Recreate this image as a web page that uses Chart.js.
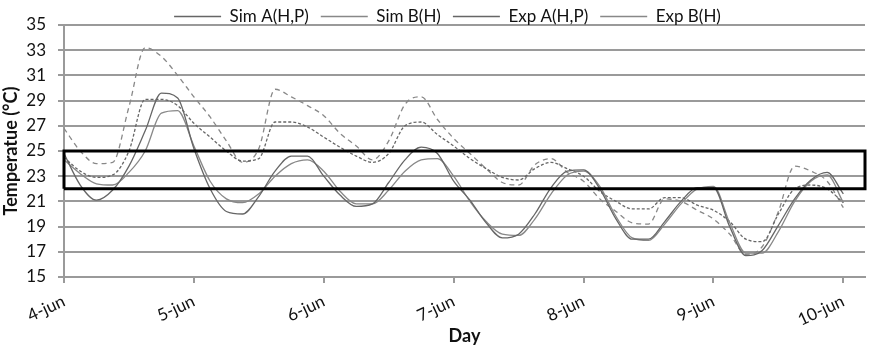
<!DOCTYPE html>
<html>
<head>
<meta charset="utf-8">
<script src="https://cdn.jsdelivr.net/npm/chart.js@4.4.1/dist/chart.umd.min.js"></script>
<style>
  html, body { margin: 0; padding: 0; background: #fff; }
  #wrap { width: 873px; height: 348px; }
</style>
</head>
<body>
<div id="wrap"><canvas id="tempChart" width="873" height="348"></canvas></div>
<script>
// hours since 4-jun 00:00, one reading every 3 h
const hours = [0, 3, 6, 9, 12, 15, 18, 21, 24, 27, 30, 33, 36, 39, 42, 45, 48, 51, 54, 57,
               60, 63, 66, 69, 72, 75, 78, 81, 84, 87, 90, 93, 96, 99, 102, 105, 108, 111, 114, 117,
               120, 123, 126, 129, 132, 135, 138, 141, 144];

const dayTicks = [0, 24, 48, 72, 96, 120, 144];
const dayLabels = ["4-jun", "5-jun", "6-jun", "7-jun", "8-jun", "9-jun", "10-jun"];

const simA = [24.8, 22.3, 21.1, 21.9, 23.8, 26.6, 29.6, 29.2, 25.2, 22.0, 20.2, 20.0, 21.4, 23.4, 24.6, 24.6, 23.0, 21.5, 20.6, 20.8,
              22.5, 24.3, 25.3, 24.8, 22.6, 21.1, 19.3, 18.1, 18.4, 20.0, 22.1, 23.4, 23.5, 22.0, 19.6, 18.0, 18.0, 19.4, 21.0, 22.1,
              22.1, 19.0, 16.7, 17.1, 19.1, 21.2, 22.7, 23.3, 21.6];

const simB = [24.3, 23.2, 22.4, 22.3, 23.3, 25.0, 28.0, 28.2, 25.4, 22.6, 21.2, 20.9, 21.6, 23.0, 24.0, 24.3, 23.4, 21.8, 20.8, 20.8,
              21.9, 23.4, 24.3, 24.4, 23.0, 21.0, 19.4, 18.4, 18.3, 19.6, 21.6, 23.1, 23.4, 22.2, 19.8, 18.1, 17.9, 19.2, 20.8, 22.0,
              22.2, 19.3, 16.9, 16.9, 18.6, 21.0, 22.6, 23.1, 20.9];

const expA = [24.5, 23.4, 22.9, 23.1, 25.0, 29.1, 29.1, 28.6, 27.2, 26.1, 25.0, 24.2, 24.4, 27.3, 27.3, 26.9, 26.1, 25.3, 24.6, 24.1,
              24.8, 27.0, 27.3, 26.3, 25.4, 24.4, 23.6, 22.9, 22.7, 23.6, 24.1, 23.6, 23.0, 21.8, 21.0, 20.4, 20.4, 21.3, 21.3, 20.7,
              20.3, 19.4, 18.0, 17.8, 20.0, 22.0, 22.3, 22.0, 20.9];

const expB = [26.8, 25.0, 24.0, 24.1, 28.5, 33.2, 32.5, 31.0, 29.3, 27.7, 25.8, 24.1, 25.2, 29.9, 29.3, 28.6, 27.8, 26.4, 25.4, 24.3,
              25.8, 28.7, 29.3, 27.5, 26.0, 24.8, 23.6, 22.5, 22.3, 23.9, 24.4, 23.3, 22.6, 21.2, 20.2, 19.3, 19.2, 21.2, 21.0, 20.3,
              19.6, 18.4, 16.8, 17.4, 20.2, 23.8, 23.4, 22.6, 20.5];

// comfort band drawn as a rectangle
const bandLow = 22;
const bandHigh = 25;
const xMax = 148;

function points(values) {
    return hours.map((h, i) => ({ x: h, y: values[i] }));
}

function series(label, values, color, dash) {
    return {
        label: label,
        data: points(values),
        borderColor: color,
        backgroundColor: color,
        borderWidth: 1.3,
        borderDash: dash,
        pointRadius: 0,
        cubicInterpolationMode: "monotone",
        order: 1
    };
}

const bandBox = {
    label: "",
    data: [
        { x: 0, y: bandLow }, { x: 0, y: bandHigh },
        { x: xMax, y: bandHigh }, { x: xMax, y: bandLow }, { x: 0, y: bandLow }
    ],
    borderColor: "#000",
    borderWidth: 3,
    pointRadius: 0,
    tension: 0,
    clip: false,
    order: 0
};

// keep the legend row short, draw it a little higher and to the right
const tightLegend = {
    id: "tightLegend",
    beforeInit(chart) {
        const fit = chart.legend.fit;
        chart.legend.fit = function () {
            fit.call(this);
            this.height = 22;
        };
    },
    afterLayout(chart) {
        const lg = chart.legend;
        lg.top -= 7;
        lg.left += 15;
        lg.right += 15;
    }
};

const font = "Lato, 'Open Sans', sans-serif";

new Chart(document.getElementById("tempChart"), {
    type: "line",
    data: {
        datasets: [
            series("Sim A(H,P)", simA, "#666666", []),
            series("Sim B(H)", simB, "#888888", []),
            series("Exp A(H,P)", expA, "#666666", [3, 2]),
            series("Exp B(H)", expB, "#888888", [5, 4]),
            bandBox
        ]
    },
    options: {
        responsive: false,
        animation: false,
        layout: { padding: { top: 3, right: 8, left: 0, bottom: 1 } },
        plugins: {
            tooltip: { enabled: false },
            legend: {
                position: "top",
                labels: {
                    color: "#111",
                    font: { family: font, size: 17 },
                    usePointStyle: true,
                    pointStyle: "line",
                    pointStyleWidth: 47,
                    padding: 12,
                    filter: item => item.text !== ""
                }
            }
        },
        scales: {
            x: {
                type: "linear",
                min: 0,
                max: xMax,
                afterBuildTicks: axis => {
                    axis.ticks = dayTicks.map(v => ({ value: v }));
                },
                afterFit: axis => {
                    axis.height = 70;
                },
                ticks: {
                    color: "#111",
                    font: { family: font, size: 17 },
                    minRotation: 25,
                    maxRotation: 25,
                    autoSkip: false,
                    padding: 8,
                    callback: value => dayLabels[dayTicks.indexOf(value)]
                },
                grid: {
                    drawOnChartArea: false,
                    color: "#9a9a9a",
                    lineWidth: 2,
                    tickLength: 6
                },
                border: { color: "#9a9a9a", width: 2 },
                title: {
                    display: true,
                    text: "Day",
                    color: "#111",
                    font: { family: font, size: 18, weight: "bold" },
                    padding: { top: 0, bottom: 0 }
                }
            },
            y: {
                min: 15,
                max: 35,
                afterFit: axis => {
                    axis.width = 64;
                },
                ticks: {
                    stepSize: 2,
                    color: "#111",
                    font: { family: font, size: 17 },
                    padding: 12
                },
                grid: {
                    color: "#9a9a9a",
                    lineWidth: 2,
                    tickLength: 6
                },
                border: { color: "#9a9a9a", width: 2 },
                title: {
                    display: true,
                    text: "Temperatue (°C)",
                    color: "#111",
                    font: { family: font, size: 18, weight: "bold" },
                    padding: { top: 0, bottom: 4 }
                }
            }
        }
    },
    plugins: [tightLegend]
});
</script>
</body>
</html>
